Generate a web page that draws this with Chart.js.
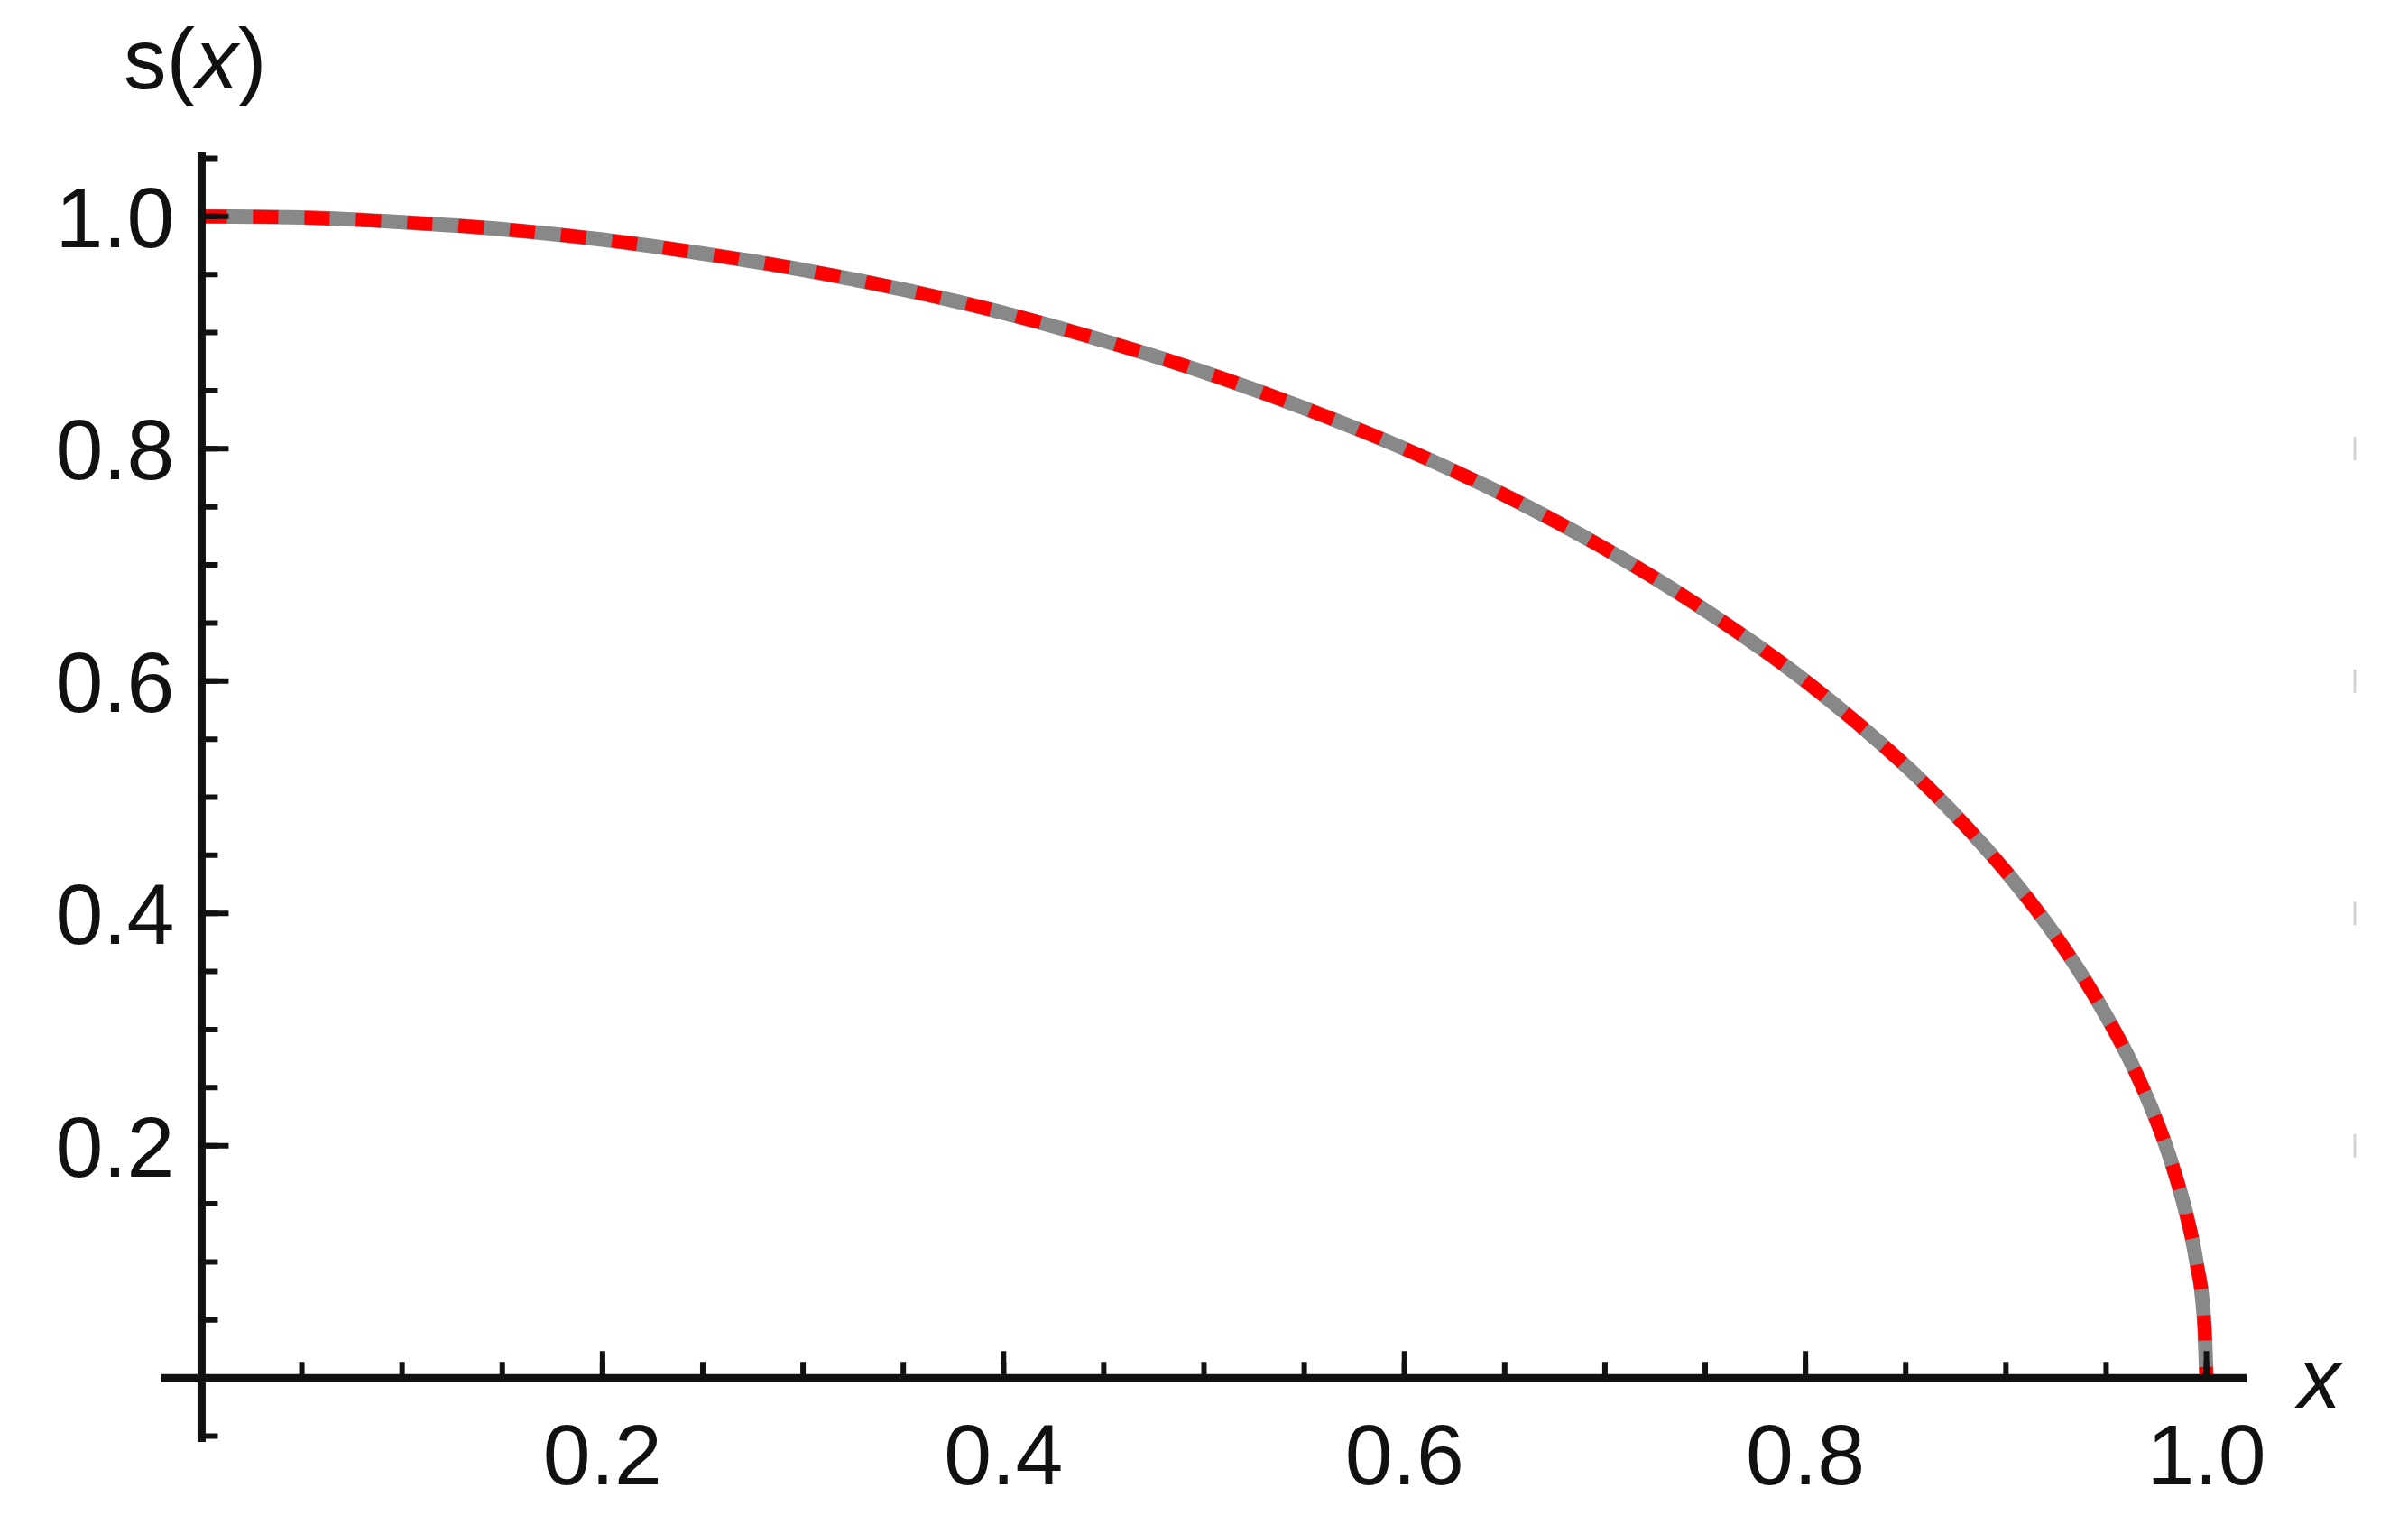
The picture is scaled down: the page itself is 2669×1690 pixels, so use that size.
<!DOCTYPE html>
<html>
<head>
<meta charset="utf-8">
<script src="https://cdn.jsdelivr.net/npm/chart.js@4.4.1/dist/chart.umd.min.js"></script>
<style>
  html, body { margin: 0; padding: 0; background: #fff; }
  #wrap { width: 2669px; height: 1690px; }
</style>
</head>
<body>
<div id="wrap"><canvas id="sChart" width="2669" height="1690"></canvas></div>
<script>
// values
const xValues = [0, 0.05, 0.1, 0.15, 0.2, 0.25, 0.3, 0.35, 0.4, 0.45, 0.5, 0.55, 0.6, 0.65, 0.7,
                 0.75, 0.8, 0.85, 0.88, 0.9, 0.92, 0.94, 0.96, 0.97, 0.975, 0.98, 0.985, 0.99, 0.995, 0.999, 1.0];
const sValues = [1.0, 0.999, 0.995, 0.989, 0.980, 0.968, 0.954, 0.937, 0.917, 0.893, 0.866, 0.835, 0.800, 0.760, 0.714,
                 0.661, 0.600, 0.527, 0.475, 0.436, 0.392, 0.341, 0.280, 0.243, 0.222, 0.199, 0.172, 0.141, 0.100, 0.045, 0.0];

const xMajorTicks = [0.2, 0.4, 0.6, 0.8, 1.0];
const xTickLabels = ['0.2', '0.4', '0.6', '0.8', '1.0'];
const yMajorTicks = [0.2, 0.4, 0.6, 0.8, 1.0];
const yTickLabels = ['0.2', '0.4', '0.6', '0.8', '1.0'];
const minorStep = 0.05;

const points = xValues.map((v, i) => ({x: v, y: sValues[i]}));

const font = '"Liberation Sans", Arial, sans-serif';

const axesPlugin = {
    id: 'crossAxes',
    afterDatasetsDraw(chart) {
        const ctx = chart.ctx;
        const area = chart.chartArea;
        const xs = chart.scales.x, ys = chart.scales.y;
        const x0 = xs.getPixelForValue(0);
        const y0 = ys.getPixelForValue(0);
        ctx.save();
        ctx.strokeStyle = '#111';
        ctx.lineCap = 'butt';

        // axis lines
        ctx.lineWidth = 9;
        ctx.beginPath();
        ctx.moveTo(area.left, y0); ctx.lineTo(area.right, y0);
        ctx.moveTo(x0, area.top); ctx.lineTo(x0, area.bottom);
        ctx.stroke();

        // minor ticks
        ctx.lineWidth = 6;
        ctx.beginPath();
        for (let i = 1; i * minorStep <= xs.max; i++) {
            const px = xs.getPixelForValue(i * minorStep);
            ctx.moveTo(px, y0); ctx.lineTo(px, y0 - 18);
        }
        for (let i = Math.ceil(ys.min / minorStep); i * minorStep <= ys.max; i++) {
            if (i === 0) continue;
            const py = ys.getPixelForValue(i * minorStep);
            ctx.moveTo(x0, py); ctx.lineTo(x0 + 18, py);
        }
        ctx.stroke();

        // major ticks
        ctx.beginPath();
        xMajorTicks.forEach(v => {
            const px = xs.getPixelForValue(v);
            ctx.moveTo(px, y0); ctx.lineTo(px, y0 - 30);
        });
        yMajorTicks.forEach(v => {
            const py = ys.getPixelForValue(v);
            ctx.moveTo(x0, py); ctx.lineTo(x0 + 30, py);
        });
        ctx.stroke();

        // faint marks at the right edge
        ctx.strokeStyle = '#d4d4d4';
        ctx.lineWidth = 3;
        ctx.beginPath();
        [0.2, 0.4, 0.6, 0.8].forEach(v => {
            const py = ys.getPixelForValue(v);
            ctx.moveTo(2610, py - 13); ctx.lineTo(2610, py + 13);
        });
        ctx.stroke();

        // tick labels
        ctx.fillStyle = '#111';
        ctx.font = '95px ' + font;
        ctx.textAlign = 'center';
        ctx.textBaseline = 'alphabetic';
        xMajorTicks.forEach((v, i) => {
            ctx.fillText(xTickLabels[i], xs.getPixelForValue(v), 1645);
        });
        ctx.textAlign = 'right';
        yMajorTicks.forEach((v, i) => {
            ctx.fillText(yTickLabels[i], x0 - 30, ys.getPixelForValue(v) + 34);
        });

        // axis titles
        ctx.textAlign = 'left';
        let tx = 137;
        ctx.font = '95px ' + font;
        ctx.fillText('s(', tx, 98);
        tx += ctx.measureText('s(').width;
        ctx.font = 'italic 95px ' + font;
        ctx.fillText('x', tx, 98);
        tx += ctx.measureText('x').width;
        ctx.font = '95px ' + font;
        ctx.fillText(')', tx, 98);

        ctx.font = 'italic 95px ' + font;
        ctx.fillText('x', 2547, 1560);
        ctx.restore();
    }
};

new Chart(document.getElementById('sChart').getContext('2d'), {
    type: 'scatter',
    data: {
        datasets: [{
            label: 's(x) dashed',
            data: points,
            showLine: true,
            borderColor: '#ff0000',
            borderWidth: 15,
            borderDash: [28, 29],
            pointRadius: 0,
            cubicInterpolationMode: 'monotone',
            order: 0
        }, {
            label: 's(x)',
            data: points,
            showLine: true,
            borderColor: '#888888',
            borderWidth: 16,
            pointRadius: 0,
            cubicInterpolationMode: 'monotone',
            order: 1
        }]
    },
    options: {
        responsive: false,
        animation: false,
        devicePixelRatio: 1,
        layout: {padding: {left: 179, right: 179, top: 169, bottom: 92}},
        plugins: {legend: {display: false}, tooltip: {enabled: false}},
        scales: {
            x: {type: 'linear', min: -0.02, max: 1.02, display: false},
            y: {type: 'linear', min: -0.055, max: 1.055, display: false}
        }
    },
    plugins: [axesPlugin]
});
</script>
</body>
</html>
